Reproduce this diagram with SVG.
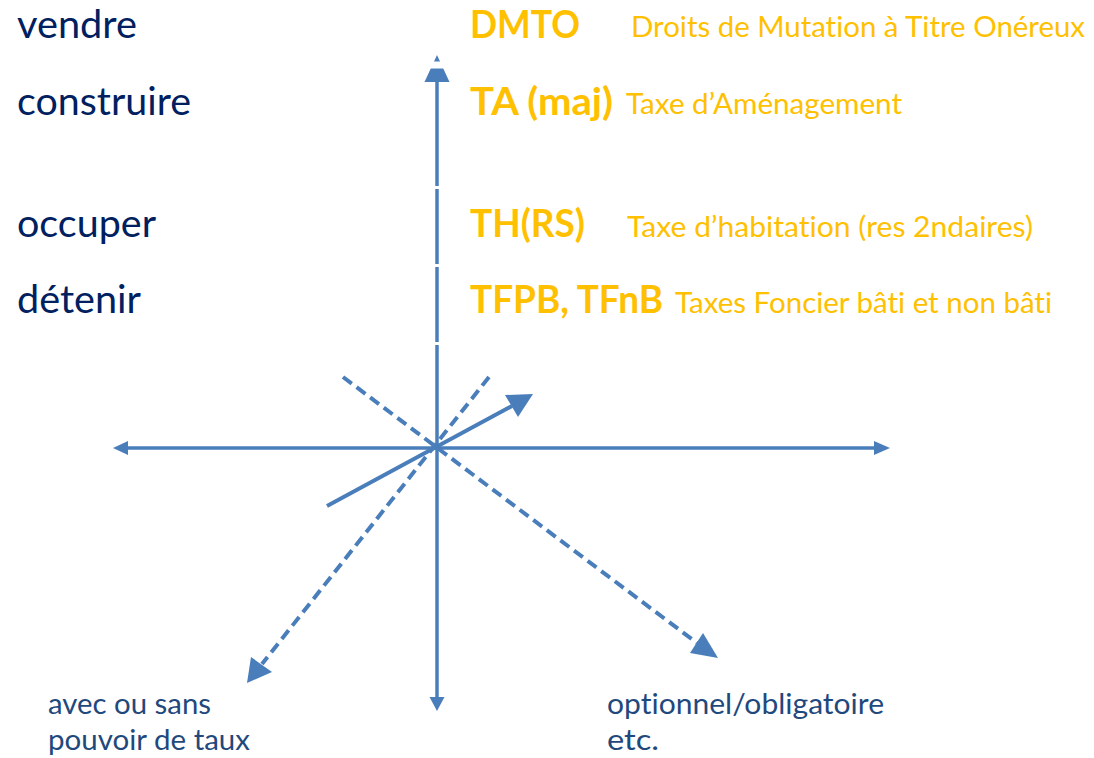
<svg xmlns="http://www.w3.org/2000/svg" width="1094" height="758" viewBox="0 0 1094 758">
<style>
text{font-variant-ligatures:none;font-feature-settings:"liga" 0}
.lbl{font-family:Lato,"Open Sans","Liberation Sans",sans-serif;font-size:38px;fill:#002060}
.code{font-family:Lato,"Open Sans","Liberation Sans",sans-serif;font-size:38px;font-weight:bold;fill:#FFC000}
.desc{font-family:Lato,"Open Sans","Liberation Sans",sans-serif;font-size:28.5px;fill:#FFC000}
.note{font-family:Lato,"Open Sans","Liberation Sans",sans-serif;font-size:28.5px;fill:#1F497D}
.ax{stroke:#4A7EBB;stroke-width:3.5;fill:none}
.dash{stroke:#4A7EBB;stroke-width:4;fill:none;stroke-dasharray:11 6}
.head{fill:#4A7EBB;stroke:none}
</style>
<rect width="1094" height="758" fill="#FFFFFF"/>
<g id="connectors">
  <line class="ax" x1="437" y1="80" x2="437" y2="186"/>
  <line class="ax" x1="437" y1="189" x2="437" y2="264"/>
  <line class="ax" x1="437" y1="267" x2="437" y2="342"/>
  <line class="ax" x1="437" y1="345" x2="437" y2="698"/>
  <polygon class="head" points="437,55 449.5,82 424.5,82"/>
  <rect x="420" y="61.5" width="34" height="7" fill="#FFFFFF"/>
  <polygon class="head" points="437,711 444.5,697 429.5,697"/>
  <line class="ax" x1="127" y1="448" x2="875" y2="448"/>
  <polygon class="head" points="113,448 128,441 128,455"/>
  <polygon class="head" points="890,448 874,441 874,455"/>
  <line class="ax" x1="327" y1="506" x2="512" y2="406" style="stroke-width:4"/>
  <polygon class="head" points="533,394 505,395 518,417"/>
  <line class="dash" x1="343" y1="377" x2="697" y2="643"/>
  <polygon class="head" points="718,658 690,653 703,633"/>
  <line class="dash" x1="489" y1="377" x2="262" y2="664"/>
  <polygon class="head" points="247,683 251,657 272,672"/>
</g>
<g id="vendre"><text class="lbl" x="17" y="38" textLength="120" lengthAdjust="spacingAndGlyphs">vendre</text></g>
<g id="construire"><text class="lbl" x="17" y="115" textLength="174" lengthAdjust="spacingAndGlyphs">construire</text></g>
<g id="occuper"><text class="lbl" x="17" y="237" textLength="139" lengthAdjust="spacingAndGlyphs">occuper</text></g>
<g id="detenir"><text class="lbl" x="17" y="313" textLength="124" lengthAdjust="spacingAndGlyphs">détenir</text></g>
<g id="dmto">
  <text class="code" x="470" y="38" textLength="110" lengthAdjust="spacingAndGlyphs">DMTO</text>
  <text class="desc" x="631" y="37" textLength="454" lengthAdjust="spacingAndGlyphs">Droits de Mutation à Titre Onéreux</text>
</g>
<g id="ta">
  <text class="code" x="470" y="115" textLength="143" lengthAdjust="spacingAndGlyphs">TA (maj)</text>
  <text class="desc" x="626" y="114" textLength="276" lengthAdjust="spacingAndGlyphs">Taxe d’Aménagement</text>
</g>
<g id="th">
  <text class="code" x="470" y="237" textLength="115" lengthAdjust="spacingAndGlyphs">TH(RS)</text>
  <text class="desc" x="627" y="237" textLength="406" lengthAdjust="spacingAndGlyphs">Taxe d’habitation (res 2ndaires)</text>
</g>
<g id="tfpb">
  <text class="code" x="470" y="313" textLength="193" lengthAdjust="spacingAndGlyphs">TFPB, TFnB</text>
  <text class="desc" x="675" y="313" textLength="377" lengthAdjust="spacingAndGlyphs">Taxes Foncier bâti et non bâti</text>
</g>
<g id="taux">
  <text class="note" x="48" y="714" textLength="163" lengthAdjust="spacingAndGlyphs">avec ou sans</text>
  <text class="note" x="48" y="750" textLength="202" lengthAdjust="spacingAndGlyphs">pouvoir de taux</text>
</g>
<g id="optionnel">
  <text class="note" x="607" y="714" textLength="277" lengthAdjust="spacingAndGlyphs">optionnel/obligatoire</text>
  <text class="note" x="607" y="750" textLength="52" lengthAdjust="spacingAndGlyphs">etc.</text>
</g>
</svg>
